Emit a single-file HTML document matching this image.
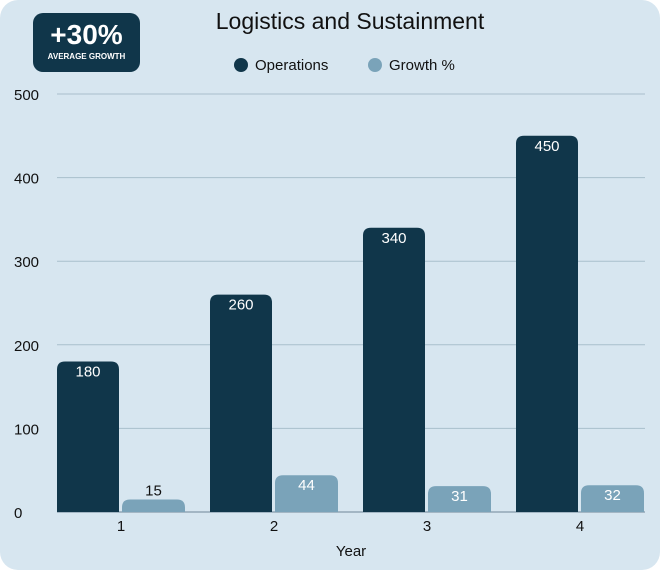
<!DOCTYPE html>
<html><head><meta charset="utf-8"><style>
body{margin:0;background:#fff;}
#card{position:absolute;left:0;top:0;width:660px;height:570px;background:#d7e6f0;border-radius:18px;overflow:hidden;font-family:"Liberation Sans",sans-serif;}
#badge{position:absolute;left:33px;top:13px;width:107px;height:59px;background:#10364a;border-radius:10px;color:#fff;text-align:center;}
#badge .big{font-size:28px;font-weight:bold;margin-top:7px;line-height:30px;}
#badge .small{font-size:8px;font-weight:bold;margin-top:2px;}
</style></head><body>
<div id="card">
<div id="badge"><div class="big">+30%</div><div class="small">AVERAGE GROWTH</div></div>
<svg id="chart" width="660" height="570" style="position:absolute;left:0;top:0"></svg>
</div>
<script>
const categories=["1","2","3","4"];
const operations=[180,260,340,450];
const growth=[15,44,31,32];
const yTicks=[0,100,200,300,400,500];
const NS="http://www.w3.org/2000/svg";
const svg=document.getElementById('chart');
function mk(t,a,txt){const e=document.createElementNS(NS,t);for(const k in a)e.setAttribute(k,a[k]);if(txt!==undefined)e.textContent=txt;svg.appendChild(e);return e;}
const y0=512,y1=94,x0=57,x1=645;
function yS(v){return y0-(v/500)*(y0-y1);}
const groupW=153;
function xS(i){return x0+i*groupW;}
let t=mk('text',{x:350,y:29,'font-size':23,fill:'#111','text-anchor':'middle'},'Logistics and Sustainment');


const leg=[['Operations','#10364a',241,255],['Growth %','#7aa3b9',375,389]];
leg.forEach(l=>{let c=mk('circle',{cx:l[2],cy:65,r:7,fill:l[1]});


let tx=mk('text',{x:l[3],y:70,'font-size':15,fill:'#111'},l[0]);

});
yTicks.forEach(v=>{let g=mk('line',{x1:x0,x2:x1,y1:yS(v),y2:yS(v),stroke:v===0?'#6f8797':'#a9bfcc','stroke-width':1});


let tl=mk('text',{x:14,y:yS(v)+6,'font-size':15,fill:'#111'},String(v));

});
function bar(x,w,v,col,name){const top=yS(v),h=y0-top,r=Math.min(8,h);
const p=mk('path',{d:`M${x},${y0}V${top+r}Q${x},${top} ${x+r},${top}H${x+w-r}Q${x+w},${top} ${x+w},${top+r}V${y0}Z`,fill:col});


const inside=h>=20;
const l=mk('text',{x:x+w/2,y:inside?top+15:top-4,'font-size':15,fill:inside?'#fff':'#111','text-anchor':'middle'},String(v));

}
categories.forEach((c,i)=>{const gx=xS(i);
bar(gx,62,operations[i],'#10364a','bar-operations-'+c);
bar(gx+65,63,growth[i],'#7aa3b9','bar-growth-'+c);
const xl=mk('text',{x:gx+64,y:531,'font-size':15,fill:'#111','text-anchor':'middle'},c);

});
const xt=mk('text',{x:351,y:556,'font-size':15,fill:'#111','text-anchor':'middle'},'Year');


</script>
</body></html>
